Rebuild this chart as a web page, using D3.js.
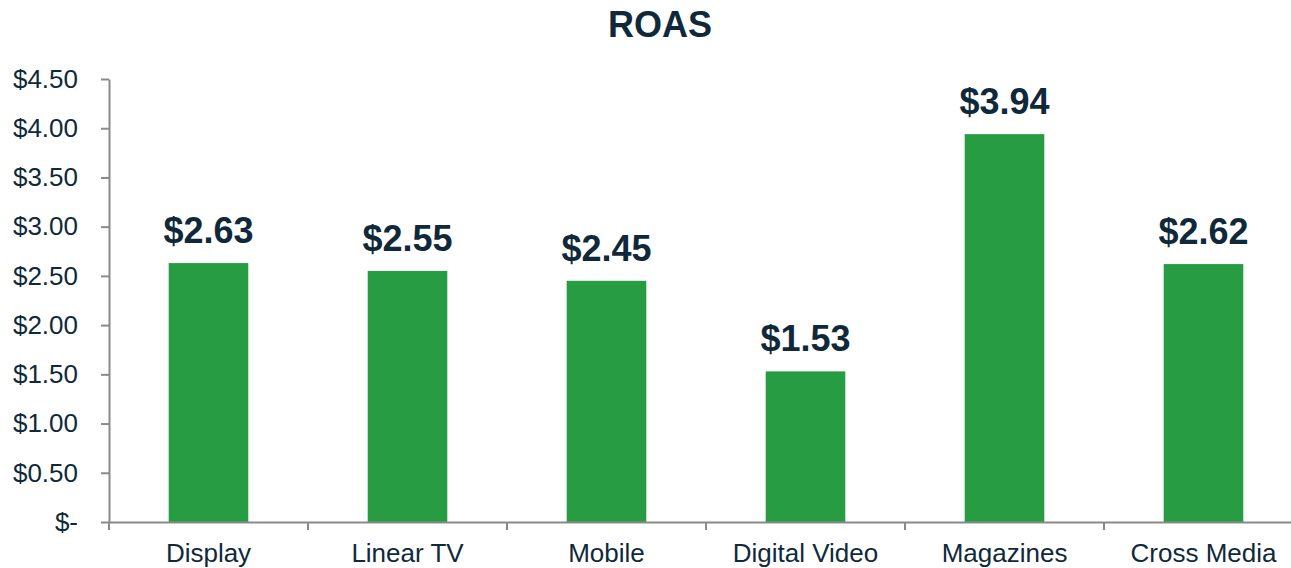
<!DOCTYPE html>
<html>
<head>
<meta charset="utf-8">
<script src="https://cdn.jsdelivr.net/npm/d3@7"></script>
<style>
  body { margin: 0; background: #fff; }
  text { font-family: "Liberation Sans", Arial, sans-serif; fill: #10293a; }
</style>
</head>
<body>
<script>
// chart data
var categories = ["Display", "Linear TV", "Mobile", "Digital Video", "Magazines", "Cross Media"];
var roas = [2.63, 2.55, 2.45, 1.53, 3.94, 2.62];
var yTicks = [0, 0.5, 1, 1.5, 2, 2.5, 3, 3.5, 4, 4.5];

var W = 1291, H = 568;
var axisColor = "#8a8a8a";

var svg = d3.select("body").append("svg")
    .attr("width", W)
    .attr("height", H);

// scales
var x = d3.scaleBand()
    .domain(categories)
    .range([109, 1303])
    .paddingInner(0.6)
    .paddingOuter(0.3);

var y = d3.scaleLinear()
    .domain([0, 4.5])
    .range([522, 79]);

function money(d) {
  return d === 0 ? "$-" : "$" + d3.format(".2f")(d);
}

// title
svg.append("text")
    .attr("x", 660)
    .attr("y", 37)
    .attr("text-anchor", "middle")
    .style("font-size", "36px")
    .style("font-weight", "bold")
    .text("ROAS");

// bars
svg.selectAll(".bar")
    .data(roas)
  .enter().append("rect")
    .attr("class", "bar")
    .attr("x", function(d, i) { return x(categories[i]); })
    .attr("width", x.bandwidth())
    .attr("y", function(d) { return y(d); })
    .attr("height", function(d) { return y(0) - y(d); })
    .attr("fill", "#279c43");

// value labels
svg.selectAll(".val")
    .data(roas)
  .enter().append("text")
    .attr("class", "val")
    .attr("x", function(d, i) { return x(categories[i]) + x.bandwidth() / 2; })
    .attr("y", function(d) { return y(d) - 20; })
    .attr("text-anchor", "middle")
    .style("font-size", "36px")
    .style("font-weight", "bold")
    .text(money);

// y axis
var yAxis = svg.append("g")
    .attr("transform", "translate(109,0)")
    .call(d3.axisLeft(y).tickValues(yTicks).tickFormat(money).tickSize(8).tickSizeOuter(0).tickPadding(23));
yAxis.selectAll("text").style("font-size", "26px").attr("fill", null);

// x axis
var xAxis = svg.append("g")
    .attr("transform", "translate(0," + y(0) + ")")
    .call(d3.axisBottom(x).tickSize(0).tickSizeOuter(0).tickPadding(22));
xAxis.selectAll("text").style("font-size", "26px").attr("fill", null);

// category boundary ticks
xAxis.selectAll(".bound")
    .data(categories)
  .enter().append("line")
    .attr("class", "bound")
    .attr("x1", function(d) { return x(d) - x.step() * 0.3; })
    .attr("x2", function(d) { return x(d) - x.step() * 0.3; })
    .attr("y1", 0)
    .attr("y2", 8)
    .attr("stroke", axisColor)
    .attr("stroke-width", 2);

svg.selectAll(".domain, .tick line")
    .attr("stroke", axisColor)
    .attr("stroke-width", 2);
</script>
</body>
</html>
